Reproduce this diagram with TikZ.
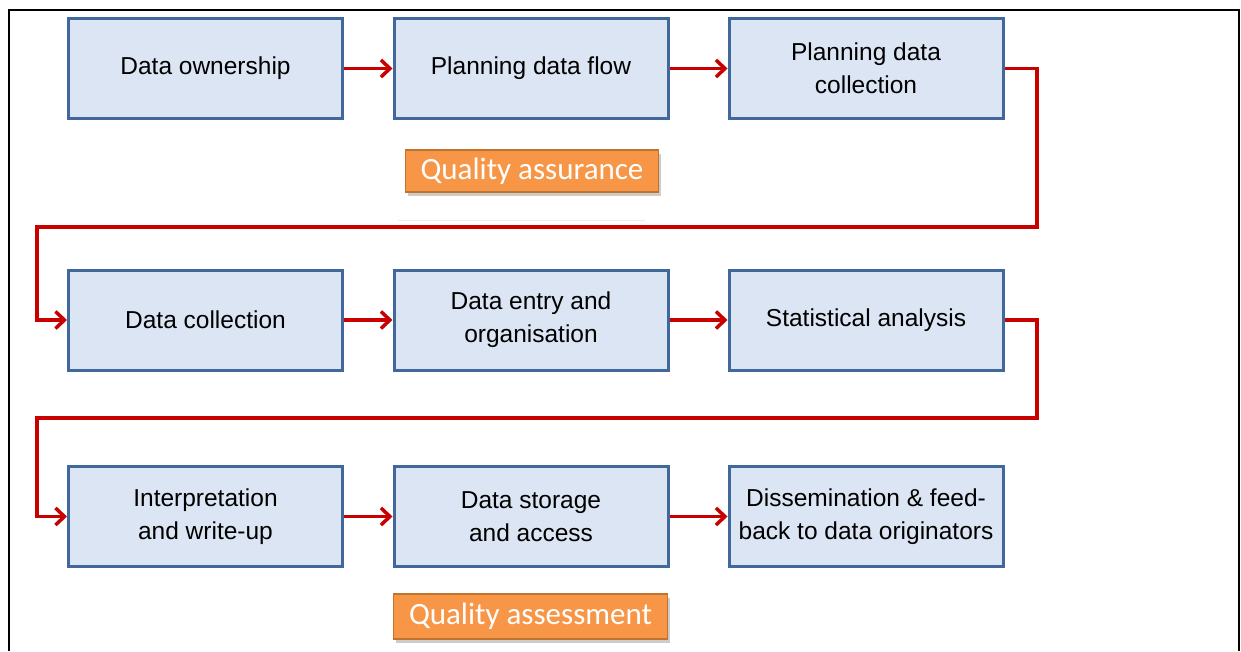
\documentclass[tikz,border=0pt]{standalone}
\usepackage{fontspec}
\setmainfont{Liberation Sans}
\newfontfamily\calib{Carlito}
\usetikzlibrary{arrows.meta,shadows}
\definecolor{boxfill}{HTML}{DBE5F3}
\definecolor{boxline}{HTML}{41689A}
\definecolor{orfill}{HTML}{F79646}
\definecolor{orline}{HTML}{C0722F}
\definecolor{arrred}{HTML}{C80000}
\tikzset{
  stepbox/.style={draw=boxline, fill=boxfill, line width=3pt, minimum width=274pt,
    minimum height=100pt, inner sep=2pt, align=center, font=\fontsize{24.5}{33}\selectfont,
    drop shadow={shadow xshift=1.5pt, shadow yshift=-1.5pt, opacity=0.25}},
  qbox/.style={draw=orline, fill=orfill, line width=1.5pt, text=white, inner sep=0pt,
    font=\calib\fontsize{31}{34}\selectfont,
    drop shadow={shadow xshift=2pt, shadow yshift=-4pt, opacity=0.4}},
  conn/.style={draw=arrred, line width=3.5pt, -{Straight Barb[length=9pt,width=17pt]}},
  frame/.style={draw=black, line width=2pt}
}
\begin{document}
\begin{tikzpicture}[x=1pt,y=-1pt]
\useasboundingbox (0,0) rectangle (1241,651);
% frame
\draw[frame] (9,651) -- (9,10) -- (27,10);
\draw[draw=black, line width=1.2pt] (27,10) -- (1043,10);
\draw[frame] (1043,10) -- (1239,10) -- (1239,651);
% faint line
\draw[draw=black!8, line width=1pt] (398,220) -- (645,220);
% boxes
\node[stepbox] (b1) at (205.5,68.5) {Data ownership};
\node[stepbox] (b2) at (531,68.5) {Planning data flow};
\node[stepbox] (b3) at (866,68.5) {Planning data\\collection};
\node[stepbox] (b4) at (205.5,320) {Data collection};
\node[stepbox] (b5) at (531,320) {Data entry and\\organisation};
\node[stepbox] (b6) at (866,320) {Statistical analysis};
\node[stepbox] (b7) at (205.5,516.5) {Interpretation\\and write-up};
\node[stepbox] (b8) at (531,516.5) {Data storage\\and access};
\node[stepbox] (b9) at (866,516.5) {Dissemination \& feed-\\back to data originators};
% quality boxes
\node[qbox, minimum width=253pt, minimum height=42pt] (qa) at (532,171) {Quality assurance};
\node[qbox, minimum width=274pt, minimum height=45pt] (qs) at (530.5,616.5) {Quality assessment};
% connectors
\coordinate (r1) at (1037,227);
\coordinate (l1) at (37,320);
\coordinate (r2) at (1037,418);
\coordinate (l2) at (37,516.5);
\draw[conn] (b1) -- (b2);
\draw[conn] (b2) -- (b3);
\draw[conn] (b3.east) -| (r1) -| (l1) -- (b4.west);
\draw[conn] (b4) -- (b5);
\draw[conn] (b5) -- (b6);
\draw[conn] (b6.east) -| (r2) -| (l2) -- (b7.west);
\draw[conn] (b7) -- (b8);
\draw[conn] (b8) -- (b9);
\end{tikzpicture}
\end{document}
